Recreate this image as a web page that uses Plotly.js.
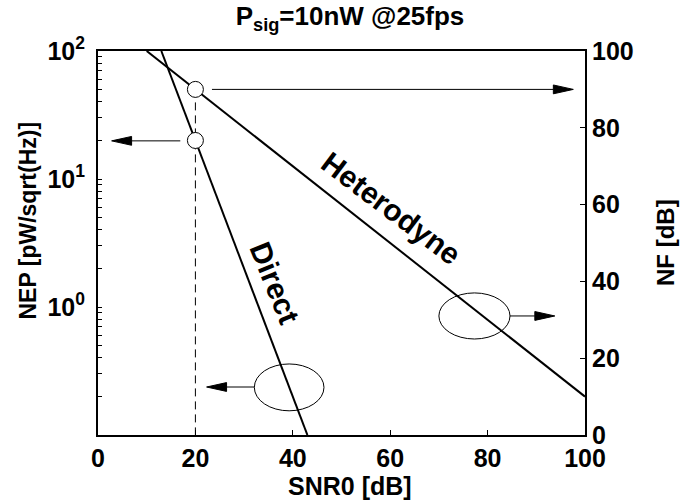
<!DOCTYPE html>
<html>
<head>
<meta charset="utf-8">
<script src="https://cdn.plot.ly/plotly-3.0.1.min.js"></script>
<style>html,body{margin:0;padding:0;background:#fff;}#chart{width:689px;height:504px;}</style>
</head>
<body>
<div id="chart"></div>
<script>
// ---- data ----
const snrDirect = [13, 43];          // SNR0 [dB]
const nepDirect = [100, 0.1];        // NEP [pW/sqrt(Hz)]
const snrHet = [10, 100];            // SNR0 [dB]
const nfHet = [100, 10];             // NF [dB]
const snrOp = [20];                  // operating point SNR0
const nepOp = [20];                  // NEP at operating point
const nfOp = [90];                   // NF at operating point
const dashSnr = [20, 20];
const dashNf = [90, 0];
const xTicks = [0, 20, 40, 60, 80, 100];
const nepTickVals = [0.2, 0.3, 0.4, 0.5, 0.6, 0.7, 0.8, 0.9, 1,
                     2, 3, 4, 5, 6, 7, 8, 9, 10,
                     20, 30, 40, 50, 60, 70, 80, 90, 100];
const nepTickText = ['', '', '', '', '', '', '', '', '10<sup>0</sup>',
                     '', '', '', '', '', '', '', '', '10<sup>1</sup>',
                     '', '', '', '', '', '', '', '', '10<sup>2</sup>'];
const nfTicks = [0, 20, 40, 60, 80, 100];

const FF = 'Liberation Sans, Arial, Helvetica, sans-serif';
const tickFont = {family: FF, size: 25, color: '#000', weight: 'bold'};

const traces = [
  {x: snrDirect, y: nepDirect, xaxis: 'x', yaxis: 'y', mode: 'lines',
   line: {color: '#000', width: 2}, hoverinfo: 'skip', showlegend: false},
  {x: snrHet, y: nfHet, xaxis: 'x', yaxis: 'y2', mode: 'lines',
   line: {color: '#000', width: 2}, hoverinfo: 'skip', showlegend: false},
  {x: dashSnr, y: dashNf, xaxis: 'x', yaxis: 'y2', mode: 'lines',
   line: {color: '#000', width: 1, dash: '8px,5px'}, hoverinfo: 'skip', showlegend: false},
  {x: snrOp, y: nfOp, xaxis: 'x', yaxis: 'y2', mode: 'markers',
   marker: {symbol: 'circle', size: 16, color: '#fff', line: {color: '#000', width: 1}},
   hoverinfo: 'skip', showlegend: false},
  {x: snrOp, y: nepOp, xaxis: 'x', yaxis: 'y3', mode: 'markers',
   marker: {symbol: 'circle', size: 16, color: '#fff', line: {color: '#000', width: 1}},
   hoverinfo: 'skip', showlegend: false}
];

// decorative arrows & ellipses (in x / y2 units)
function arrow(x0, x1, y, headLen, halfH) {
  const dir = Math.sign(x1 - x0);
  const base = x1 - dir * headLen;
  return [
    {type: 'line', xref: 'x', yref: 'y2', x0: x0, x1: base, y0: y, y1: y,
     line: {color: '#000', width: 1}},
    {type: 'path', xref: 'x', yref: 'y2',
     path: `M ${x1} ${y} L ${base} ${y + halfH} L ${base} ${y - halfH} Z`,
     fillcolor: '#000', line: {color: '#000', width: 1}}
  ];
}
const shapes = [].concat(
  arrow(23.4, 97.6, 90, 4.1, 1.15),
  arrow(16.9, 2.8, 76.6, 4.1, 1.15),
  arrow(84.6, 93.8, 31, 4.1, 1.15),
  arrow(32.1, 22.3, 12.5, 4.1, 1.15),
  [
    {type: 'circle', xref: 'x', yref: 'y2', x0: 70.0, x1: 84.6, y0: 25, y1: 37,
     line: {color: '#000', width: 1}},
    {type: 'circle', xref: 'x', yref: 'y2', x0: 32.1, x1: 46.4, y0: 6.3, y1: 18.5,
     line: {color: '#000', width: 1}}
  ]
);

const annotations = [
  {text: 'Heterodyne', xref: 'x', yref: 'y2', x: 60.3, y: 59.1, showarrow: false,
   textangle: 37, font: {family: FF, size: 30, color: '#000', weight: 'bold'}},
  {text: 'Direct', xref: 'x', yref: 'y2', x: 36.2, y: 39.6, showarrow: false,
   textangle: 68, font: {family: FF, size: 30, color: '#000', weight: 'bold'}},
  // axis titles
  {text: 'SNR0 [dB]', xref: 'x', yref: 'paper', x: 51.8, y: 0, yshift: -51,
   xanchor: 'center', yanchor: 'middle', showarrow: false, font: {family: FF, size: 25, color: '#000', weight: 'bold'}},
  {text: 'NEP [pW/sqrt(Hz)]', xref: 'paper', yref: 'paper', x: 0, xshift: -70, y: 0.5586,
   xanchor: 'center', yanchor: 'middle', textangle: -90, showarrow: false,
   font: {family: FF, size: 23, color: '#000', weight: 'bold'}},
  {text: 'NF [dB]', xref: 'paper', yref: 'paper', x: 1, xshift: 80, y: 0.5,
   xanchor: 'center', yanchor: 'middle', textangle: -90, showarrow: false,
   font: {family: FF, size: 24, color: '#000', weight: 'bold'}}
];

const layout = {
  width: 689, height: 504,
  margin: {l: 98, r: 104, t: 51, b: 69, pad: 0},
  paper_bgcolor: '#fff', plot_bgcolor: '#fff',
  showlegend: false,
  title: {text: 'P<sub>sig</sub>=10nW @25fps', font: {family: FF, size: 26, color: '#000', weight: 'bold'},
          x: 0.508, xref: 'container', y: 0.968, yref: 'container', yanchor: 'middle'},
  xaxis: {range: [0, 100], tickvals: xTicks, ticks: 'inside', ticklen: 5, tickwidth: 1,
          tickcolor: '#000', showline: true, linecolor: '#000', linewidth: 2, mirror: true,
          showgrid: false, zeroline: false, tickfont: tickFont},
  yaxis: {type: 'log', range: [-1, 2], tickvals: nepTickVals, ticktext: nepTickText,
          ticks: 'inside', ticklen: 4, tickwidth: 1, tickcolor: '#000',
          showline: true, linecolor: '#000', linewidth: 2, showgrid: false, zeroline: false,
          tickfont: tickFont, ticklabelstandoff: 6},
  yaxis2: {overlaying: 'y', side: 'right', range: [0, 100], tickvals: nfTicks,
           ticks: 'inside', ticklen: 5, tickwidth: 1, tickcolor: '#000',
           showline: true, linecolor: '#000', linewidth: 2, showgrid: false, zeroline: false,
           tickfont: tickFont},
  yaxis3: {overlaying: 'y', type: 'log', range: [-1, 2], visible: false, showgrid: false,
           zeroline: false},
  shapes: shapes,
  annotations: annotations
};

Plotly.newPlot('chart', traces, layout, {staticPlot: true, displayModeBar: false});
</script>
</body>
</html>
